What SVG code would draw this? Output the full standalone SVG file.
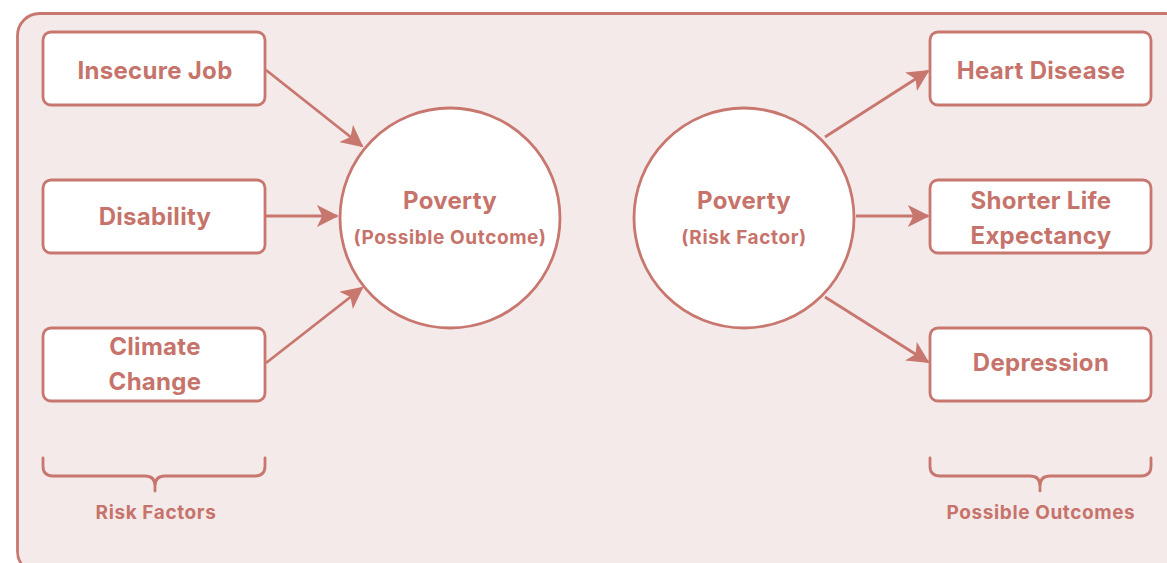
<svg xmlns="http://www.w3.org/2000/svg" width="1167" height="563" viewBox="0 0 1167 563">
<style>
.bg{fill:#f5eaea;stroke:#c8776f;stroke-width:2.8}
.box{fill:#fff;stroke:#c8776f;stroke-width:2.8}
.t{font-family:Inter,"Liberation Sans",sans-serif;font-weight:700;fill:#c6736b;text-anchor:middle}
.big{font-size:24px;letter-spacing:0.3px}
.sm{font-size:19px;letter-spacing:0.6px}
.edge{stroke:#c8776f;stroke-width:2.8;fill:none}
.brace{stroke:#c8776f;stroke-width:2.8;fill:none;stroke-linecap:round}
</style>
<defs>
<marker id="a" viewBox="0 0 12 12" refX="11" refY="6" markerWidth="22" markerHeight="22" markerUnits="userSpaceOnUse" orient="auto"><path d="M0,0 L12,6 L0,12 L3,6 Z" fill="#c8776f"/></marker>
</defs>
<rect class="bg" x="17.5" y="13.5" width="1170" height="560" rx="22"/>
<g id="insecure-job"><rect class="box" x="43" y="32" width="222" height="73" rx="8"/><text class="t big" x="155" y="79">Insecure Job</text></g>
<g id="disability"><rect class="box" x="43" y="180" width="222" height="73" rx="8"/><text class="t big" x="155" y="225">Disability</text></g>
<g id="climate-change"><rect class="box" x="43" y="328" width="222" height="73" rx="8"/><text class="t big" x="155" y="355">Climate</text><text class="t big" x="155" y="390">Change</text></g>
<g id="poverty-outcome"><circle class="box" cx="450" cy="218" r="110"/><text class="t big" x="450" y="209">Poverty</text><text class="t sm" x="450" y="244">(Possible Outcome)</text></g>
<g id="poverty-risk"><circle class="box" cx="744" cy="218" r="110"/><text class="t big" x="744" y="209">Poverty</text><text class="t sm" x="744" y="244">(Risk Factor)</text></g>
<g id="heart-disease"><rect class="box" x="930" y="32" width="221" height="73" rx="8"/><text class="t big" x="1041" y="79">Heart Disease</text></g>
<g id="shorter-life"><rect class="box" x="930" y="180" width="221" height="73" rx="8"/><text class="t big" x="1041" y="209">Shorter Life</text><text class="t big" x="1041" y="244">Expectancy</text></g>
<g id="depression"><rect class="box" x="930" y="328" width="221" height="73" rx="8"/><text class="t big" x="1041" y="371">Depression</text></g>
<g id="connectors">
<line class="edge" x1="266" y1="70" x2="362" y2="146" marker-end="url(#a)"/>
<line class="edge" x1="266" y1="216" x2="337" y2="216" marker-end="url(#a)"/>
<line class="edge" x1="266" y1="363" x2="362" y2="288" marker-end="url(#a)"/>
<line class="edge" x1="825" y1="137" x2="928" y2="71" marker-end="url(#a)"/>
<line class="edge" x1="856" y1="216" x2="928" y2="216" marker-end="url(#a)"/>
<line class="edge" x1="825" y1="297" x2="928" y2="362" marker-end="url(#a)"/>
</g>
<g id="risk-factors-label">
<path class="brace" d="M43,458 V466 Q43,476 53,476 H145 Q155,476 155,486 V491 M155,486 Q155,476 165,476 H255 Q265,476 265,466 V458"/>
<text class="t sm" x="156" y="519">Risk Factors</text>
</g>
<g id="possible-outcomes-label">
<path class="brace" d="M930,458 V466 Q930,476 940,476 H1030 Q1040,476 1040,486 V491 M1040,486 Q1040,476 1050,476 H1141 Q1151,476 1151,466 V458"/>
<text class="t sm" x="1041" y="519">Possible Outcomes</text>
</g>
</svg>
